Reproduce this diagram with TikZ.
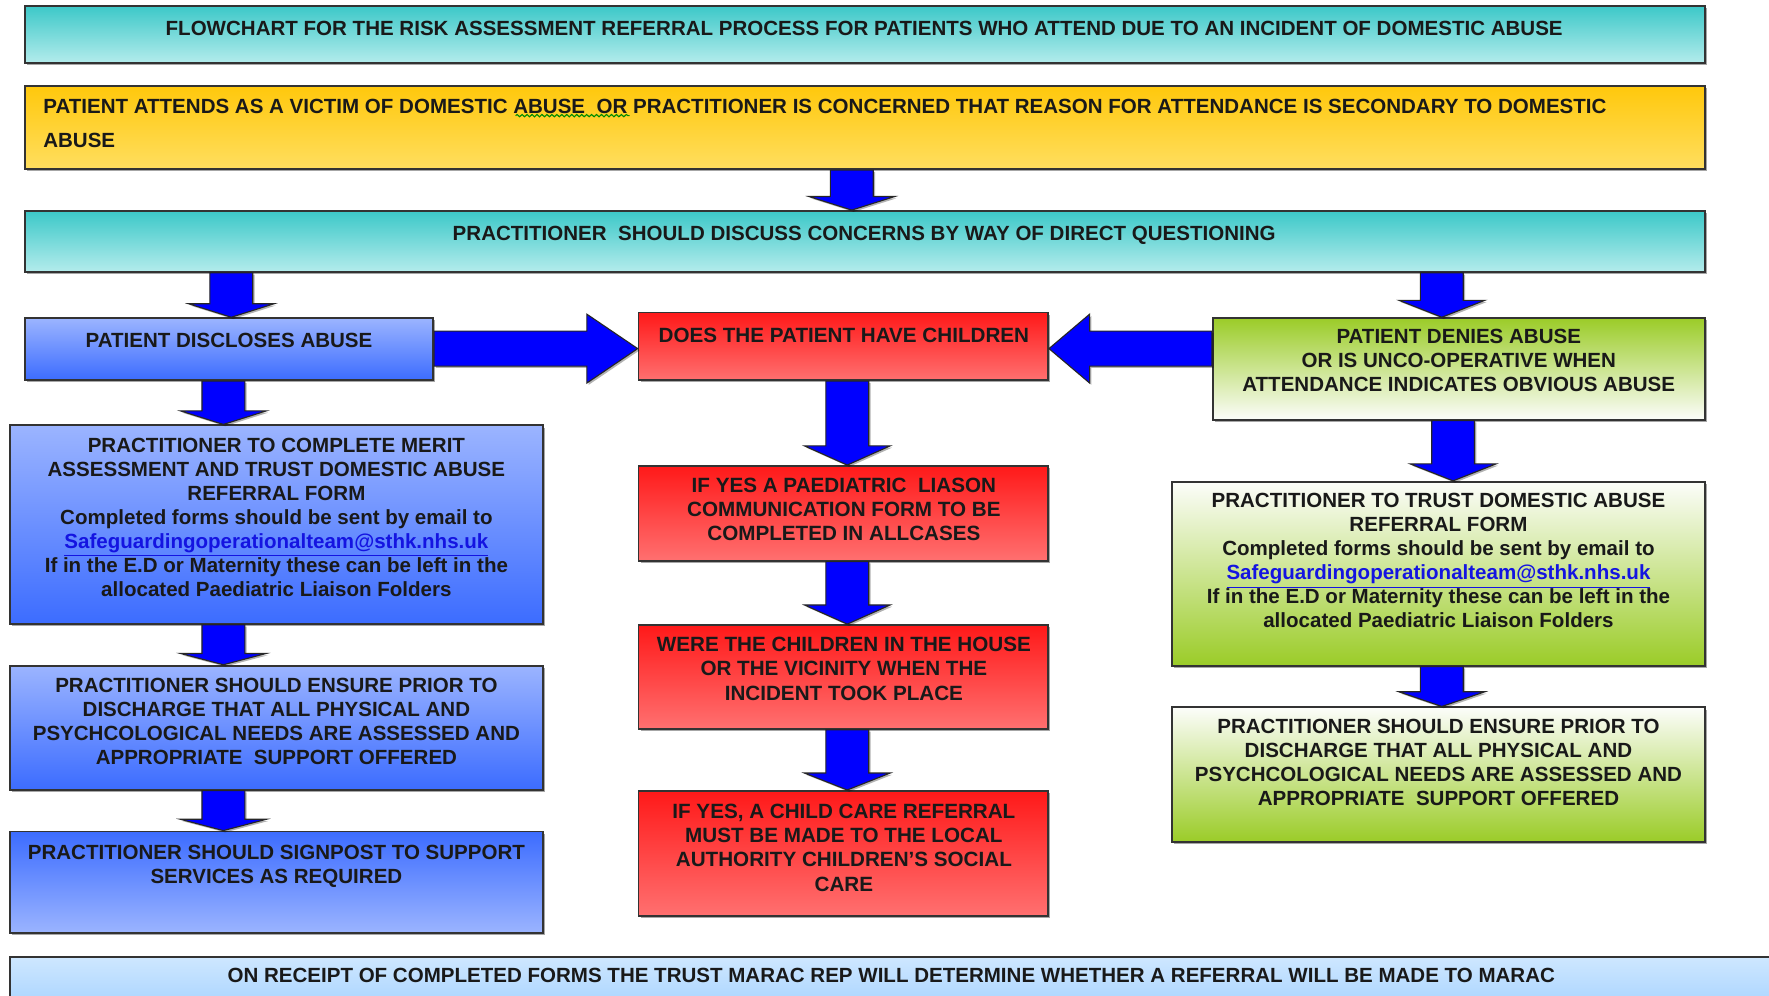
\documentclass[tikz,border=0pt]{standalone}
\usepackage{fontspec}
\setmainfont{Liberation Sans}
\usetikzlibrary{fit,shadows,calc,decorations.pathmorphing}
\definecolor{tealT}{RGB}{60,200,200}
\definecolor{tealB}{RGB}{180,236,236}
\definecolor{yelT}{RGB}{255,200,12}
\definecolor{yelB}{RGB}{255,222,95}
\definecolor{bluT}{RGB}{155,180,255}
\definecolor{bluB}{RGB}{60,108,255}
\definecolor{redT}{RGB}{255,25,25}
\definecolor{redB}{RGB}{255,112,112}
\definecolor{grnD}{RGB}{155,204,40}
\definecolor{grnL}{RGB}{252,253,250}
\definecolor{skyT}{RGB}{206,231,255}
\definecolor{skyB}{RGB}{155,205,255}
\definecolor{arrowblue}{RGB}{0,0,255}
\definecolor{linkblue}{RGB}{20,20,225}
\newcommand{\maillink}[1]{\textcolor{linkblue}{\underline{#1}}}
\tikzset{
  box/.style={draw=black!80, line width=0.8pt, inner sep=0pt,
    drop shadow={shadow xshift=1pt, shadow yshift=-1pt, opacity=0.35, fill=black}},
  teal/.style={box, top color=tealT, bottom color=tealB},
  yel/.style={box, top color=yelT, bottom color=yelB},
  blu/.style={box, top color=bluT, bottom color=bluB},
  bluinv/.style={box, top color=bluB, bottom color=bluT},
  red/.style={box, top color=redT, bottom color=redB},
  grnup/.style={box, top color=grnD, bottom color=grnL},
  grndown/.style={box, top color=grnL, bottom color=grnD},
  sky/.style={box, top color=skyT, bottom color=skyB},
  txt/.style={inner sep=0pt, anchor=north, align=center, text=black!90,
    font=\fontsize{9.1}{10.65}\selectfont\bfseries},
  txtwide/.style={txt, font=\fontsize{9.1}{10.65}\selectfont\bfseries},
  txtred/.style={txt, font=\fontsize{9.15}{10.65}\selectfont\bfseries},
  barr/.style={draw=black!85, line width=0.5pt, fill=arrowblue,
    drop shadow={shadow xshift=0.8pt, shadow yshift=-0.8pt, opacity=0.3, fill=black}},
  bdown/.style n args={3}{barr, to path={let \p1=(\tikztostart), \p2=(\tikztotarget) in
    (\x1-#1,\y1) -- (\x1-#1,\y2+#3) -- (\x1-#2,\y2+#3) -- (\x1,\y2)
    -- (\x1+#2,\y2+#3) -- (\x1+#1,\y2+#3) -- (\x1+#1,\y1) -- cycle}},
  bright/.style n args={3}{barr, to path={let \p1=(\tikztostart), \p2=(\tikztotarget) in
    (\x1,\y1+#1) -- (\x2-#3,\y1+#1) -- (\x2-#3,\y1+#2) -- (\x2,\y1)
    -- (\x2-#3,\y1-#2) -- (\x2-#3,\y1-#1) -- (\x1,\y1-#1) -- cycle}},
  bleft/.style n args={3}{barr, to path={let \p1=(\tikztostart), \p2=(\tikztotarget) in
    (\x1,\y1+#1) -- (\x2+#3,\y1+#1) -- (\x2+#3,\y1+#2) -- (\x2,\y1)
    -- (\x2+#3,\y1-#2) -- (\x2+#3,\y1-#1) -- (\x1,\y1-#1) -- cycle}},
  dn/.style={bdown={9.5pt}{19pt}{#1}},
}
\begin{document}
\begin{tikzpicture}[x=0.5pt,y=-0.5pt]
\useasboundingbox (0,0) rectangle (1568,882);
\clip (0,0) rectangle (1568,882);
\fill[white] (0,0) rectangle (1568,882);

% boxes
\node[teal, fit={(22,5)(1511,56)}] (title) {};
\node[yel, fit={(22,76)(1511,150)}] (attend) {};
\node[teal, fit={(22,187)(1511,241)}] (discuss) {};
\node[blu, fit={(22,282)(384,337)}] (disclose) {};
\node[blu, fit={(9,377)(481,553)}] (merit) {};
\node[blu, fit={(9,590)(481,700)}] (ensureB) {};
\node[bluinv, fit={(9,737)(481,827)}] (signpost) {};
\node[red, fit={(566,277)(929,337)}] (children) {};
\node[red, fit={(566,413)(929,497)}] (liaison) {};
\node[red, fit={(566,554)(929,646)}] (house) {};
\node[red, fit={(566,701)(929,812)}] (childcare) {};
\node[grnup, fit={(1075,282)(1511,372)}] (denies) {};
\node[grndown, fit={(1039,427)(1511,590)}] (trust) {};
\node[grndown, fit={(1039,627)(1511,746)}] (ensureG) {};
\node[sky, fit={(9,848)(1600,910)}] (marac) {};

% texts
\node[txtwide] (titleT) at (766,18.7) {FLOWCHART FOR THE RISK ASSESSMENT REFERRAL PROCESS FOR PATIENTS WHO ATTEND DUE TO AN INCIDENT OF DOMESTIC ABUSE};
\node[txtwide, anchor=north west, align=left, font=\fontsize{9.1}{15}\selectfont\bfseries] (attendT) at (38,87.7)
  {PATIENT ATTENDS AS A VICTIM OF DOMESTIC ABUSE\ \ OR PRACTITIONER IS CONCERNED THAT REASON FOR ATTENDANCE IS SECONDARY TO DOMESTIC\\ABUSE};
\draw[green!55!black, line width=0.5pt, decorate, decoration={snake, amplitude=0.5pt, segment length=2.2pt}] (457,102.5) -- (558,102.5);
\node[txtwide] (discussT) at (766,199.7) {PRACTITIONER\ \ SHOULD DISCUSS CONCERNS BY WAY OF DIRECT QUESTIONING};
\node[txt] (discloseT) at (203,294.7) {PATIENT DISCLOSES ABUSE};
\node[txt] (meritT) at (245,387.7) {PRACTITIONER TO COMPLETE MERIT\\ASSESSMENT AND TRUST DOMESTIC ABUSE\\REFERRAL FORM\\Completed forms should be sent by email to\\\maillink{Safeguardingoperationalteam@sthk.nhs.uk}\\If in the E.D or Maternity these can be left in the\\allocated Paediatric Liaison Folders};
\node[txt] (ensureBT) at (245,600.7) {PRACTITIONER SHOULD ENSURE PRIOR TO\\DISCHARGE THAT ALL PHYSICAL AND\\PSYCHCOLOGICAL NEEDS ARE ASSESSED AND\\APPROPRIATE\ \ SUPPORT OFFERED};
\node[txt] (signpostT) at (245,748.7) {PRACTITIONER SHOULD SIGNPOST TO SUPPORT\\SERVICES AS REQUIRED};
\node[txtred] (childrenT) at (748,290.7) {DOES THE PATIENT HAVE CHILDREN};
\node[txtred] (liaisonT) at (748,423.7) {IF YES A PAEDIATRIC\ \ LIASON\\COMMUNICATION FORM TO BE\\COMPLETED IN ALLCASES};
\node[txtred] (houseT) at (748,564.7) {WERE THE CHILDREN IN THE HOUSE\\OR THE VICINITY WHEN THE\\INCIDENT TOOK PLACE};
\node[txtred] (childcareT) at (748,712.7) {IF YES, A CHILD CARE REFERRAL\\MUST BE MADE TO THE LOCAL\\AUTHORITY CHILDREN’S SOCIAL\\CARE};
\node[txt] (deniesT) at (1293,291.7) {PATIENT DENIES ABUSE\\OR IS UNCO-OPERATIVE WHEN\\ATTENDANCE INDICATES OBVIOUS ABUSE};
\node[txt] (trustT) at (1275,436.7) {PRACTITIONER TO TRUST DOMESTIC ABUSE\\REFERRAL FORM\\Completed forms should be sent by email to\\\maillink{Safeguardingoperationalteam@sthk.nhs.uk}\\If in the E.D or Maternity these can be left in the\\allocated Paediatric Liaison Folders};
\node[txt] (ensureGT) at (1275,636.7) {PRACTITIONER SHOULD ENSURE PRIOR TO\\DISCHARGE THAT ALL PHYSICAL AND\\PSYCHCOLOGICAL NEEDS ARE ASSESSED AND\\APPROPRIATE\ \ SUPPORT OFFERED};
\node[txtwide] (maracT) at (790,857.7) {ON RECEIPT OF COMPLETED FORMS THE TRUST MARAC REP WILL DETERMINE WHETHER A REFERRAL WILL BE MADE TO MARAC};

% block arrows
\draw[dn=6pt] (755,0 |- attend.south) to (755,0 |- discuss.north);
\draw[dn=6pt] (205,0 |- discuss.south) to (205,0 |- disclose.north);
\draw[dn=7.5pt] (1278,0 |- discuss.south) to (1278,0 |- denies.north);
\draw[bright={7.75pt}{15.25pt}{22.5pt}] (disclose.east |- 0,309) to (children.west |- 0,309);
\draw[bleft={7.75pt}{15.25pt}{18pt}] (denies.west |- 0,309) to (children.east |- 0,309);
\draw[dn=6pt] (198,0 |- disclose.south) to (198,0 |- merit.north);
\draw[dn=5pt] (198,0 |- merit.south) to (198,0 |- ensureB.north);
\draw[dn=5pt] (198,0 |- ensureB.south) to (198,0 |- signpost.north);
\draw[dn=8.5pt] (751,0 |- children.south) to (751,0 |- liaison.north);
\draw[dn=8.5pt] (751,0 |- liaison.south) to (751,0 |- house.north);
\draw[dn=7.5pt] (751,0 |- house.south) to (751,0 |- childcare.north);
\draw[dn=7.5pt] (1288,0 |- denies.south) to (1288,0 |- trust.north);
\draw[dn=6.5pt] (1278,0 |- trust.south) to (1278,0 |- ensureG.north);
\end{tikzpicture}
\end{document}
